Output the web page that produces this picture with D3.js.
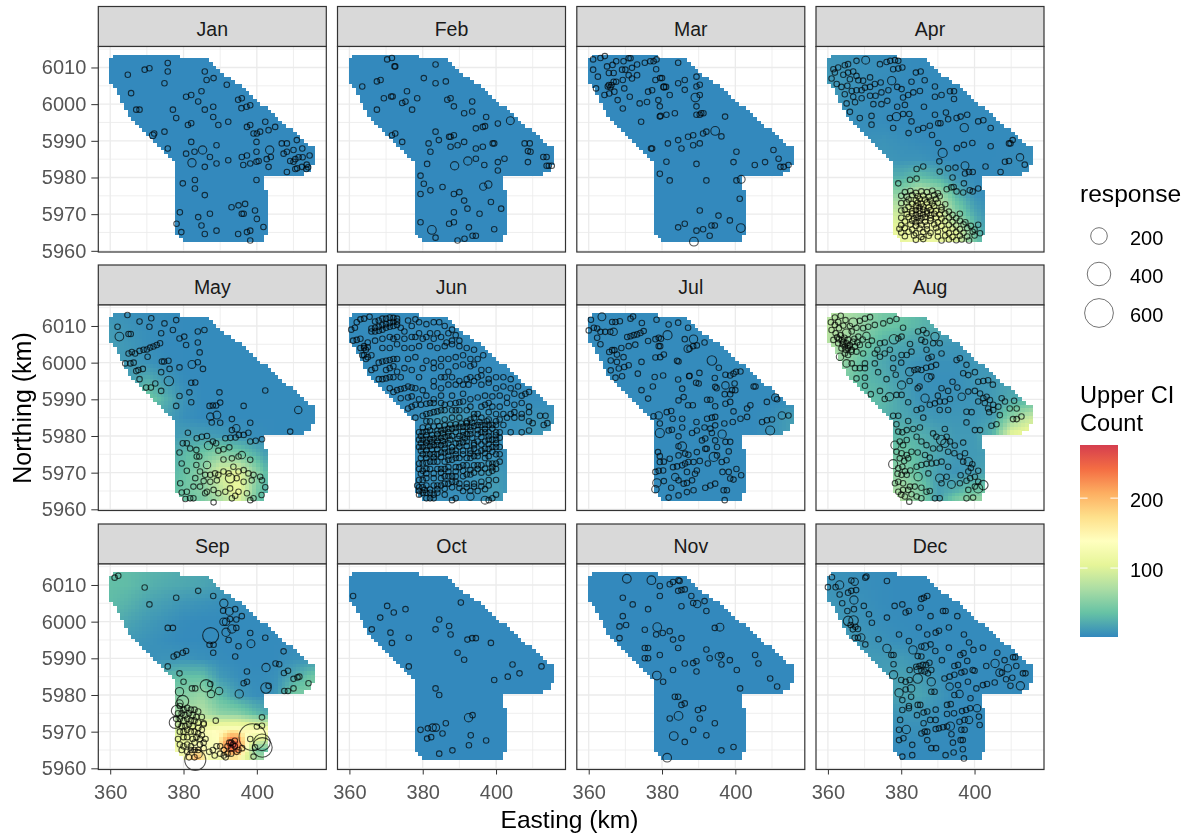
<!DOCTYPE html>
<html><head><meta charset="utf-8">
<script src="https://cdn.jsdelivr.net/npm/d3@7"></script>
<style>html,body{margin:0;padding:0;background:#fff}svg{display:block;font-family:"Liberation Sans",Arial,sans-serif;filter:blur(.45px)}</style>
</head><body><svg id="c" width="1192" height="838"></svg>
<script>
const months=["Jan","Feb","Mar","Apr","May","Jun","Jul","Aug","Sep","Oct","Nov","Dec"];
const xTicks=[360,380,400], xMinor=[370,390,410];
const yTicks=[5960,5970,5980,5990,6000,6010], yMinor=[5965,5975,5985,5995,6005,6015];
const sizeBreaks=[200,400,600], colorBreaks=[100,200];
const colorDomain=[1.4,276];
const spectral=["#3288BD","#66C2A5","#ABDDA4","#E6F598","#FFFFBF","#FEE08B","#FDAE61","#F46D43","#D53E4F"];
const smallResponse=22, flatField=2;
// survey region outline (easting, northing km)
const regionOutline=[[359.8,6012.5],[360.9,6013.5],[378.9,6013.5],[379,6012.6],[385.6,6012.6],[391.1,6008],[396.4,6004.5],[400,6000.8],[403.6,5998],[407.3,5994.9],[411.8,5990.8],[415.9,5987.6],[415.9,5983.7],[415,5983.5],[415,5981.7],[413.2,5981.5],[413.2,5980.2],[408.2,5980.2],[408.2,5981],[401.8,5981],[401.8,5976.5],[403.2,5976],[403.2,5965.8],[401.8,5964.5],[401.8,5963.3],[400.9,5962.5],[380,5962.5],[379.1,5963.5],[378.2,5964.3],[378.2,5984.3],[375.5,5986.3],[370.9,5990.8],[365,5996.3],[363.2,6000.8],[361.4,6004.9],[359.8,6006.5]];
// upper CI on a coarse lattice
const gridX=[360,365,370,375,380,385,390,395,400,405,410,415];
const gridY=[6015,6010,6005,6000,5995,5990,5985,5980,5975,5970,5965,5960];
const fieldApr=[[8,8,6,5,4,3,3,3,3,3,3,3],[10,8,6,5,4,3,3,3,3,3,3,3],[12,8,6,4,3,3,3,3,3,3,3,3],[10,7,5,4,3,3,3,3,3,3,3,3],[5,5,5,4,3,3,3,3,3,3,3,3],[3,3,6,8,6,4,3,3,3,3,3,3],[3,3,6,10,8,8,5,3,3,3,4,5],[3,3,10,25,25,35,25,10,4,3,4,4],[3,3,20,60,60,95,75,30,8,3,3,3],[3,3,35,90,90,130,110,55,20,3,3,3],[3,3,45,110,110,120,115,105,40,3,3,3],[3,3,50,110,110,110,105,95,45,3,3,3]];
const fieldMay=[[5,5,5,5,3,3,3,3,3,3,3,3],[12,8,5,4,3,3,3,3,3,3,3,3],[14,10,6,3,3,3,3,3,3,3,3,3],[14,12,8,4,3,3,3,3,3,3,3,3],[5,15,25,12,4,3,3,3,3,3,3,3],[5,10,45,25,8,3,3,3,3,3,3,3],[3,3,15,15,6,3,3,3,3,3,3,3],[3,3,5,10,15,15,12,8,5,3,3,3],[3,3,5,20,30,40,55,45,25,5,3,3],[3,3,5,25,35,55,95,105,55,10,3,3],[3,3,5,30,40,50,80,115,45,8,3,3],[3,3,5,30,35,40,60,80,40,5,3,3]];
const fieldJun=[[3,3,3,3,3,3,3,3,3,3,3,3],[3,3,3,3,3,3,3,3,3,3,3,3],[3,3,3,3,3,3,3,3,3,3,3,3],[3,3,3,3,3,3,3,3,3,3,3,3],[3,3,3,3,3,3,3,3,3,3,3,3],[3,3,3,3,3,4,4,4,4,4,4,4],[3,3,3,3,5,12,12,8,6,6,8,8],[3,3,3,3,6,10,8,6,6,6,10,10],[3,3,3,3,6,6,6,6,6,6,6,6],[3,3,3,3,5,6,6,10,12,6,6,6],[3,3,3,3,5,5,6,8,14,6,6,6],[3,3,3,3,4,5,5,6,10,6,6,6]];
const fieldJul=[[3,3,3,3,3,3,3,3,3,3,3,3],[3,3,3,3,3,3,3,3,3,3,3,3],[3,3,3,3,3,3,3,3,3,3,3,3],[3,3,3,3,3,3,3,3,3,3,3,3],[3,3,3,3,3,3,3,3,3,3,3,3],[3,3,3,3,3,3,3,3,3,3,3,3],[3,3,3,3,3,3,3,3,3,3,6,14],[3,3,3,3,3,3,3,3,3,3,8,14],[3,3,3,3,3,3,3,3,3,3,3,3],[3,3,3,3,3,3,3,3,3,3,3,3],[3,3,3,3,3,3,3,3,3,3,3,3],[3,3,3,3,3,3,3,3,3,3,3,3]];
const fieldAug=[[75,70,60,45,40,32,22,15,12,10,10,10],[80,70,55,40,35,28,22,18,12,10,10,10],[75,65,42,26,20,15,12,10,10,10,10,10],[65,55,30,20,12,8,7,7,10,10,10,10],[55,45,30,24,14,7,6,6,10,12,15,15],[40,40,35,30,18,8,7,8,9,13,22,25],[30,30,30,26,20,14,10,10,10,14,55,85],[30,30,30,30,30,25,18,12,12,28,110,120],[40,40,40,40,42,30,18,12,12,14,14,14],[40,40,40,50,55,32,15,9,14,20,20,20],[50,50,50,65,70,48,15,25,40,40,40,40],[50,50,50,70,80,58,15,70,85,60,50,50]];
const fieldSep=[[32,32,28,25,22,20,18,14,10,5,5,5],[34,32,26,22,20,18,14,10,8,5,5,5],[32,26,18,14,10,8,6,5,5,5,5,5],[26,18,12,8,4,3,3,3,3,3,3,3],[18,12,8,5,3,3,3,3,3,3,3,3],[12,8,6,8,8,6,4,3,3,3,6,6],[10,8,12,28,35,35,12,5,4,6,20,40],[10,10,30,50,50,60,32,12,5,8,45,50],[30,50,60,60,70,75,55,50,30,15,10,10],[60,80,90,90,100,125,145,150,140,130,20,20],[90,110,130,125,115,130,130,150,50,30,20,20],[120,130,140,130,130,115,105,105,90,80,20,20]];
const fieldDec=[[6,6,5,4,3,3,3,3,3,3,3,3],[8,7,5,4,3,3,3,3,3,3,3,3],[10,8,6,4,3,3,3,3,3,3,3,3],[12,10,7,5,4,3,3,3,3,3,3,3],[12,12,10,7,5,4,3,3,3,3,3,3],[10,10,12,12,12,8,5,3,3,3,3,3],[5,5,10,14,16,14,8,3,3,3,3,3],[3,3,8,14,18,18,10,4,3,3,3,3],[3,3,4,8,10,10,6,3,3,3,3,3],[3,3,3,5,6,6,4,3,3,3,3,3],[3,3,3,3,3,3,3,3,3,3,3,3],[3,3,3,3,3,3,3,3,3,3,3,3]];
// local peaks in September: easting, northing, value, reach km
const peaksSep=[[393.5,5966.3,276,4.5],[383.5,5963,205,3.5]];
// small encounters: flat easting,northing pairs; big*: easting,northing,response triples
const ptsJan=[364.8,6008,369.4,6009.4,370.7,6009.8,375.7,6011.2,375.7,6008.9,374.8,6005.7,365.7,6003,367.1,5998.5,368,5998.5,377.1,5998.5,378,5996.2,380.7,6002,382.1,6002.5,384.9,6003.5,384,6000.7,385.8,5998.5,388.1,5999.3,388.1,5996.5,389.5,5994.3,392.2,5995.2,385.8,6008.9,386.3,6006.6,388.2,6007.1,391.8,6005.3,394.9,6001.2,395.9,6001.6,395.8,5998.9,397.2,5999.3,398.2,5999.7,381.2,5994.3,382.1,5994.8,372,5992,374.8,5992.5,375.7,5987.9,380.7,5986.5,382.1,5989.7,383,5987,385.8,5982.9,387.2,5985.6,389,5988.8,389,5983.8,392.2,5984.7,395.9,5985.6,397.3,5986,396.3,5983.4,398.2,5983.8,399.1,5992,400,5992,400.9,5992.5,402.3,5995.2,403.2,5992.9,405,5993.8,397.3,5993.8,398.2,5994.3,399.9,5989.7,399.9,5987,399.9,5984.3,400.5,5984.5,402.7,5985,403.8,5985.6,403.2,5982.9,399.9,5979.3,406.8,5989.3,408.2,5989.3,407.3,5986.5,408.2,5987,410,5987.5,410.9,5990.2,412.4,5987.9,414.4,5986,409.1,5984.5,410.5,5985,411.4,5985.5,412.5,5985.5,410,5984.3,408.2,5981.5,410.5,5982.3,411,5982.5,412.3,5982.9,413.6,5983.5,413.5,5982.3,414,5982.8,379.8,5978.4,383.1,5979.3,383.1,5977,385.8,5975.2,379,5970.5,384,5969.2,387.2,5970.1,378.1,5967.4,384.9,5966.9,379.4,5965.1,385.8,5964.6,389,5965.5,393.1,5971.9,395,5972.4,396.8,5972.8,395.9,5970.1,396.4,5970.1,399.5,5971,400,5968.7,401.8,5966.5,394.9,5964.6,397.3,5965.1,398.2,5965.5,398.2,5962.8];
const bigJan=[371.6,5991.5,32,385.2,5987.5,50,382.3,5984,50,403.5,5987.5,50];
const ptsFeb=[370.3,6012.2,371.6,6012.6,372.3,6010.3,372.5,6010.3,383.5,6010.8,380.3,6007.1,367.5,6006.2,368.5,6006.6,383.5,6005.7,386.3,6006.2,363.5,6004.8,375.7,6003.5,369.4,6001.6,371.4,6002.1,371.8,6002.1,374.4,6000.3,375.3,6000.7,378.5,6001.6,377.1,5998.5,367.5,5998.5,386.7,6001.2,387.6,6001.6,388.5,5999.4,393.5,6000.7,391.3,5997.5,393.5,5998,397.3,5996.5,400.5,5994.7,394.5,5993.4,396.4,5993.8,397,5994,383.5,5992.5,371.6,5991.5,372.5,5992,374.4,5989.7,381.6,5989.3,384.4,5990.2,387.2,5991.1,387.6,5991.1,388.5,5991.5,387.6,5988.4,389.5,5988.8,391.3,5989.7,394.5,5987.9,396.4,5988.4,399.1,5989.3,399.5,5989.3,382.1,5987,381.2,5983.7,394.5,5985.1,396.8,5983.4,400.5,5984.2,402.3,5985.1,400.5,5981.9,407.8,5989.3,409.2,5989.3,408.7,5987.2,409.4,5987,408.7,5984.2,412.9,5985.6,413.8,5985.6,413.8,5983.2,414.4,5983.2,415.2,5983.2,379.4,5980.5,380.3,5978.3,385.4,5977.4,379.4,5975.5,382.1,5976.5,388.5,5975.5,390,5976,391.3,5973.7,392.2,5971.5,388.5,5970.5,395.5,5970.1,398.6,5973.3,401.4,5971.5,379.4,5967.8,387.2,5967.4,388.5,5967.8,392.6,5966.4,399.5,5965.9,383.5,5963.6,389.5,5962.8,391.4,5963.3,393.6,5964.1,394.5,5964.1];
const bigFeb=[403.9,5995.5,45,388.7,5983.2,50,392.3,5984.5,50,396.5,5977.5,38,397.9,5978.1,38,382.5,5965.7,55];
const ptsMar=[361.2,6012.2,363.2,6012.6,364.4,6013.1,367.5,6011.7,369.5,6011.7,370.9,6012.5,371.4,6012.5,373.2,6010.8,375.3,6011.3,376.8,6011.7,377.7,6011.7,378.5,6012.2,384.4,6011.3,361.2,6009.4,365,6010.3,366.5,6010.7,365.5,6008.5,366.8,6008.5,362.5,6007.5,369.1,6009.4,370,6009.4,371.8,6009.9,370.9,6007.9,371.8,6007,373.2,6007.9,378.4,6009.5,369.3,6006.6,379.5,6007.1,380,6007.1,378.2,6006.6,365.5,6005.2,366.2,6005.2,366.8,6006.1,367.5,6006.1,365.2,6004.8,365.9,6004.6,362,6004.3,364.3,6002.5,365.6,6002.9,367,6003.4,369.7,6004.3,367.9,6001.1,371.2,6002,369.3,5998.8,373.9,6000.2,375.9,6000.6,376.2,6003.4,377.3,6003.8,379,6001.1,379.4,5999.4,380.5,6004.7,381.1,6004.7,382.1,6002.5,384.4,6005.7,386.2,6006.6,386.2,6003.9,389.4,6007.5,390.3,6005.3,389.4,6004.8,390.3,6002.5,389.4,5999.4,389.4,5997.1,390.3,5997.1,390.7,5997.5,391.3,5997.5,383.5,5997.5,381.2,5997.1,379.4,5996.6,379.6,5996.8,374.3,5995.2,397.2,5996.6,396.2,5991.2,392.1,5992.5,391.2,5992,388.5,5991.5,387.1,5991.1,384.4,5990.2,381.6,5989.3,377,5987.9,377.3,5987.9,388.5,5988.8,390.3,5989.3,385.3,5987.9,381.2,5984.3,389.4,5983.7,379.4,5981,382.1,5979.2,392.1,5979.2,400.3,5987,399.5,5984.2,400.3,5979.2,401.2,5974.2,405.3,5983.4,408.1,5984.2,410.4,5987.5,411.8,5985.1,412.3,5982.9,413.2,5982.9,414.5,5983.4,390.3,5971,395.4,5969.6,398.5,5968.3,393.5,5966.9,394.4,5966.9,384.4,5966.4,386.2,5967.4,389.4,5965.5,391.2,5965.9,393,5964.1];
const bigMar=[380.5,6004.7,30,389.1,6001.8,55,394.5,5992.7,55,401.6,5979.5,45,401.5,5966.2,55,388.7,5962.5,55];
const ptsApr=[367.8,6011.8,374.2,6010.9,376,6011.5,377,6011.8,378.3,6012,379.2,6011.8,377.8,6009.5,379.2,6009.7,380.3,6010,384,6008.6,385.3,6008.9,365.5,6010.9,364.6,6010.6,362.8,6010,361.5,6009.5,361,6007,361.9,6008.6,364.2,6008,365.5,6008.6,366.9,6008.9,367.8,6007.7,366,6006.8,368.3,6006.5,369.6,6006.4,371.5,6007.3,362.4,6005.5,363.7,6004.7,365.3,6005,366.5,6003.6,367.8,6003.8,369.2,6003.8,370.1,6004.5,371.5,6004.7,372.8,6005.5,374.4,6005.9,364.6,6002.7,366.9,6002,369.2,6001.6,371.5,6002.3,373,6002.3,374.6,6003.2,376.5,6003.8,378.9,6004.7,380.1,6004.1,380.5,6001.8,381.9,6002.5,383.3,6003.2,385.1,6003.6,386.4,6006.5,382.8,6006.1,389.2,6004.8,389.2,6002,391,6002.5,393.3,6003.5,394.4,6003.5,394.4,6001.4,365.1,6000.2,367.4,6000.5,366,5997.9,368.7,5996.2,371.9,5996.8,371.9,5994.4,372.4,6000,374.6,6000,376.2,6000.9,378.9,5999.3,381,5999.8,376.9,5996.2,380.5,5997.3,382.2,5997.3,382.8,5995.3,377.8,5993.5,382,5992.1,384.6,5993,386,5993.5,387.8,5994.1,386.2,5999.3,389.2,5997.1,392.2,5997.7,392.8,5995.9,390.1,5994.8,390.7,5994.8,395.1,5996.2,396.2,5996.6,398,5997.1,401,5995.3,402.4,5995.6,404.4,5993.5,388.4,5991.6,390.1,5989.4,395.2,5988,397.1,5988.9,399.4,5989.4,404.4,5988.5,409.4,5989.3,409.8,5989.3,410.4,5990.2,409.4,5984.5,408.3,5984.3,413.7,5983.5,407.1,5981.5,403,5983,384.2,5982.3,386,5983,390.4,5984.4,390.5,5981.6,392.8,5982.5,394.8,5982.7,397.4,5981.1,398.5,5981.5,399.5,5981.5,394,5980,379.2,5978.4,382.4,5979.4,384.2,5979.7,393.7,5977.3,397.1,5978.4,398.7,5976.5,401,5977,399.5,5976.2,395.1,5976.2,396.9,5975.9,392.4,5976.8,394.3,5977.4,381,5976,382.5,5976.3,384,5975.8,385.5,5976.2,387,5976,388.5,5976.4,390,5975.7,380,5975,381.5,5974.8,383,5975.2,384.5,5974.9,386,5975.1,387.5,5974.7,389,5975.2,390.5,5974.9,382,5974,384,5973.8,385,5974.2,386.5,5974,388,5973.7,389.5,5974.1,380,5973,381.5,5973.2,383,5972.8,384.5,5973.1,385.5,5972.8,387,5973.2,388.5,5972.9,390,5973.1,392,5972.7,382,5972,384,5972.2,385,5971.8,386,5972.1,387.5,5971.8,389,5972.2,391,5971.9,380,5971,381,5971.2,383,5970.8,384,5971.1,385,5970.9,386,5971.2,387,5970.8,388,5971.1,389.5,5970.9,391,5971.1,393,5970.7,381.5,5970,383,5970.2,384,5969.8,385,5970.1,386,5969.9,387,5970.2,388,5969.8,389,5970.1,390.5,5969.9,392,5970.2,394,5969.8,396,5970.1,380,5969,382,5969.2,383.5,5968.8,384.5,5969.1,385.5,5968.9,386.5,5969.2,388,5968.9,389.5,5969.1,391,5968.8,393,5969.1,395,5968.9,381,5968,383,5968.2,384,5967.8,385,5968.1,386.5,5967.9,388,5968.2,390,5967.8,392,5968.1,394,5967.9,396,5968.2,397.5,5967.8,380,5967,382.5,5967.2,384,5966.8,385.5,5967.1,387,5966.9,389,5967.2,391,5966.8,393,5967.1,395,5966.9,397,5967.2,399,5966.8,401,5967.1,379.5,5966,381,5966.2,383,5965.8,385,5966.1,387,5965.9,389.5,5966.2,392,5965.8,394,5966.1,396,5965.9,398,5966.2,400,5965.8,380,5965,382,5965.2,384,5964.8,386,5965.1,388,5964.9,390,5965.2,393,5964.8,395,5965.1,397,5964.9,399.5,5965.2,401.5,5964.8,381,5964,383.5,5964.2,385.5,5963.8,387.5,5964.1,390,5963.9,392,5964.2,394,5963.8,396,5964.1,398,5963.9,400,5964.2,384,5963,386,5963.2,391,5962.8,393,5963.1,395,5962.9,396.5,5963.1,398.5,5962.8];
const bigApr=[370.3,6012,45,377.4,6006.4,50,378.7,5996.6,50,397.2,5993.6,50,391.3,5986.7,60,412.4,5985.5,40,397.4,5983.2,45];
const ptsMay=[364.7,6013,362,6009.8,368,6011.2,371.2,6012.1,370.7,6009.8,374.8,6010.7,378,6011.6,377.1,6008.9,373.9,6008,365,6007.8,365.6,6007.8,378.9,6006.6,380.2,6007.1,380.7,6004.8,383.9,6008.5,385.7,6008.9,383.9,6005.5,384.4,6002.8,365,6002.5,365.9,6002.9,366.8,6002.5,368,6003.2,369.1,6003.5,370,6003.6,370.9,6004.1,371.8,6004.4,372.7,6004.8,373.6,6005.3,370.2,6001.6,364.1,5999.8,365.5,5999.8,366.4,6000,374.1,6000.3,374.7,6000.3,375.9,6000.5,367.1,5997.7,367.7,5998,368.9,5998.3,368,5995.5,373.9,5997.4,376.2,5998.3,378.9,5998.7,383.9,6000.1,385.3,5998.3,382.1,5994.5,383.2,5994.6,369.8,5993.2,371.1,5993.2,372.3,5994.3,373.9,5992.3,378.9,5990.9,381.6,5991.9,382.1,5989.2,378,5988.2,387.1,5988.2,388,5988.3,388.9,5988.3,390,5989.1,389.8,5991.9,396.4,5988.2,402.3,5992.4,409.1,5981.2,387.7,5983.7,390,5983.6,393.2,5984.6,398.2,5983.6,393.2,5981.6,397.7,5980.9,381.2,5980.9,379.8,5978,380.9,5978,383.6,5979.4,385,5979.8,386.4,5980,388,5978.5,388.9,5978,391.4,5979.4,392.8,5979.5,394.2,5979.6,395.1,5980.3,396.4,5980.3,398.2,5978.5,399.7,5978.7,401.4,5979.1,389.5,5976,390.9,5976.4,392.5,5976.9,381.8,5976.6,383.5,5976.2,378.9,5975.5,383.6,5974.4,384.3,5974.4,395,5974.4,390.9,5973.6,393.2,5973.9,398.2,5973.5,379.5,5972.5,380.9,5970.5,383.5,5972.1,384.5,5970.3,385.9,5969.4,387.3,5969.4,388.6,5969.8,389.5,5969.4,390.9,5970.3,392.3,5969.8,393.6,5971.6,395,5970.3,396.4,5970.7,397.7,5969.8,399.1,5969.4,400.9,5968.9,383.2,5968.5,385.5,5967.7,387.3,5967.5,389.1,5967.9,394.5,5968.5,396.4,5967.5,398.6,5967.9,401.4,5967.9,379.1,5967.1,402.3,5966,382.7,5966.2,384.5,5966.2,386.4,5964.8,388.2,5965.3,389.5,5964.4,391.4,5964.8,392.7,5965.7,395,5964.8,397.3,5964.4,401.3,5963.9,379.5,5964.6,380.9,5964.8,381.8,5963,380.5,5962.8,382.7,5963,388.2,5961.9,393.2,5963,394.1,5963.7,399.1,5963,398.2,5962.5,385.9,5964.4];
const bigMay=[362.5,6007.1,55,382.3,5999.5,45,376,5995,65,411.3,5987.1,40,387.3,5985.3,40,389.1,5985.7,45,394.4,5982.1,40,386.8,5977.4,50,395.9,5974.8,40,386.4,5972.1,40,392.7,5968.5,65];
const ptsJun=[362,6011,363,6011.8,364,6012,365.5,6012.5,367,6011.2,368,6011.5,369,6012,370,6012,371,6012.3,372,6012.2,373,6012,376,6011.5,378,6011.8,379,6011,381,6010.5,383,6011,384.5,6011,386,6010,388,6009,360.5,6009,361.5,6009.5,366,6008.5,367,6008.5,368,6008.7,369,6009,370,6009.5,371,6009.8,372,6010,373,6010.3,374,6009.5,375,6008.5,377,6010,379,6008,382,6008,384,6008,387,6008,389,6007.5,361,6006,362,6006.2,363,6006.5,365,6005.5,367,6006,369,6006.5,371,6007,372,6006.5,373,6007,375,6006.5,377,6007,378,6007,380,6006.5,381,6007,383,6006.5,385,6007,386.5,6005.5,388,6006,390,6006,363,6004,364,6004,365,6004.2,369,6004,371,6004,373,6005,375,6004,377,6004,379,6004.5,382,6004.5,384,6004,386,6004.5,388,6005,390,6004.5,392,6004,394,6003.5,364,6002,365,6001.5,366,6002,368,6000,369,6000.3,370,6000.5,371,6000.7,372,6001,373,6001,376,6001,378,6001.5,381,6000.5,383,6000,385,6001,387,6001,389,6001.5,391,6002,393,6001,395,6001,396.5,6002,366,5998,367,5998.5,370,5998,371,5998.5,372,5999,373,5997.5,375,5998.5,377,5998,380,5998.5,383,5998.5,385,5999,387,5997.5,389,5999,391,5999.5,393,5999,394,5999.5,396,5998,398,5998,368,5995.5,369,5995.5,370,5995.7,371,5996,372,5996,374,5996,379,5996,383,5995,385,5996,386,5996,388,5996,390,5995,392,5995.5,393,5996,395,5996,396,5996.5,398,5995.5,400,5996,402,5996,404,5995.5,371,5993,372,5992,373,5992.5,374,5992.8,375,5993,376,5993.5,377,5993.2,378,5993,380,5992.5,383,5993.5,385,5993,387,5994,389,5994,391,5994,392.5,5994,394,5995,396,5994,398,5994.5,400,5993,402,5993.5,404,5993,406,5993.5,374,5990.3,376,5990.5,377,5990.8,379,5990,381,5991,383,5990,385,5991,388,5991,391,5991.5,393,5990,395,5990.5,397,5991,399,5990.8,401,5991,403,5990.5,405,5991.5,407,5991,408,5991.5,409,5992,376,5987.5,377,5988,378,5988.5,379.5,5988.5,381,5988.8,382,5989,383,5989,385,5989,386,5988.5,387.5,5988.8,389,5989,390,5989.2,391,5989.4,393,5988,396,5988,397,5988.5,398,5989,399,5988,401,5988,403,5989,405,5988.5,407,5989,409,5988,378,5985,380,5985.5,381,5986,382,5986.2,383,5986.5,384,5986.7,385,5987,386,5987,388,5987,389,5987,390,5987,392,5987,394,5986,395,5986,398,5986.5,400,5986,402,5986,404,5986,405,5986.5,407,5986,409,5986.5,412,5985.5,413.5,5985.5,381,5984,382,5984,384,5984,386,5984.5,388,5985,390,5985,392,5984,393,5984.5,394,5985,396,5985,398,5984.5,400,5984,401,5984.5,403,5985,405,5985,407,5985,409,5984,410,5983.5,413,5983,414,5983.5,379,5981,380,5981,381,5981.2,382,5981.5,384,5981.5,385,5981.5,386,5981.7,387,5982,388,5982,389,5982.2,390,5982.5,391,5982.5,392,5982.5,393,5982.5,394,5982.7,395,5983,396,5983,397,5983,398,5983,399,5983,400,5983,402,5983,404,5981,407,5981,409,5981.5,379,5979,380,5979,381,5979,382,5979.2,383,5979.3,384,5979.5,385,5979.5,386,5979.7,387,5980,388,5980,390,5980,391,5980.2,392,5980.5,393,5980.5,395,5980.5,396,5981,397,5981,398,5981,400,5981,401,5981,379,5977,380,5977,381,5977.2,382,5977.3,383,5977.5,384,5977.5,385,5977.5,386,5977.7,387,5978,389,5978,390,5978,391,5978.3,392,5978.5,394,5978,395,5978.5,397,5978.5,398,5979,399,5979,400,5979,401,5979.5,380,5975,381,5975,382,5975,383,5975,384,5975,385,5975.5,386,5975.5,387,5975.7,388,5976,389,5976,391,5976,393,5976,394,5976.5,396,5976,397,5976.5,398,5976.5,399,5977,400,5977,401,5977,379,5972.5,380,5972.5,381,5972.7,382,5973,383,5973,384,5973,386,5973,387,5973.5,388,5973.5,389,5974,390,5974,392,5974,393,5974,394,5974.5,395,5974.5,397,5974,398,5974.5,400,5975,401,5975,379,5971,380,5970.5,381,5971,382,5971,384,5971,385,5971,386,5971,387,5971.5,389,5971.5,390,5971.5,391,5972,392,5972,394,5972,395,5972,396,5972,398,5972.5,399,5972.5,400,5972.5,401,5973,379,5968,380,5968,381,5968.5,383,5968.5,385,5968.5,386,5969,387,5969,388,5969,389,5969,391,5969,392,5969.5,393,5969.5,394,5970,396,5970,398,5970,399,5970.5,400,5971,378.5,5966.5,379,5966,380,5966,381,5966.5,383,5966.5,384,5966.5,385,5966.5,386,5967,387,5967,388,5967.5,389,5967.5,390,5967,392,5967,394,5967,396,5967.5,398,5968,400,5968,379,5964,380,5964.5,381,5964.5,382,5964.5,383,5964,384,5964.5,386,5964,391,5965,393,5965,395,5965,397,5965.5,381,5963,382,5963,383,5963,388,5962.5,389,5963,398,5962.5,399,5963,400,5964,380,5982.3,381.5,5982.4,383,5982.6,384.5,5982.7,386,5982.9,387.5,5983.1,389,5983.2,390.5,5983.4,392,5983.5,393.5,5983.6,395.5,5983.8,397.5,5984,379.5,5980,381,5980.2,382.5,5980.3,384,5980.5,385.5,5980.7,387,5981,389,5981.1,391,5981.2,393,5981.5,395,5981.6,397,5981.9,399,5982,379.5,5978,381,5978.2,382.5,5978.3,384,5978.5,385.5,5978.6,387.5,5979,389.5,5979.2,391.5,5979.4,393.5,5979.5,396,5979.7,398,5980,400,5980.2,379.5,5976,381,5976.1,382.5,5976.3,384,5976.4,386,5976.6,388,5977,390,5977.1,392,5977.3,394,5977.5,396,5977.7,398,5977.8,400,5978,379.5,5974,381,5974,383,5974.2,385,5974.3,387,5974.6,389,5975,391,5975,393,5975.2,395,5975.5,397,5975.3,399,5975.7,379.5,5969.7,381,5969.8,383,5969.8,385,5970,387,5970.3,389,5970.3,391,5970.5,393,5970.7,395,5971,397,5971.1,399,5971.5,379,5965,380.5,5965.3,382,5965.4,384,5965.5,386,5965.6,388,5966,390,5965.8,392,5966,394,5966.2,396,5966.3,398,5966.5,366,6009.3,367,6009.5,368,6009.8,369,6010.2,370,6010.5,371,6010.8,372,6011.1,373,6011.2,364,6004.5,364.5,6003.5,363.5,6002,364.5,6001];
const bigJun=[393,5963.5,40,397,5962.5,45];
const ptsJul=[360.6,6011.7,366.4,6011.1,367.3,6011.1,368.5,6011.3,371.4,6012,372.1,6012.6,374.5,6010.8,378.5,6011.7,381.8,6010.4,384.4,6010.9,387.1,6009.5,360,6008.8,361.4,6009.5,362.3,6009.3,363.2,6008.4,364.5,6008.4,365.9,6008.4,362.3,6006.8,370.5,6007,371.4,6007.2,372.3,6007.5,373.2,6007.7,374.1,6008.1,375,6008.6,379.1,6006.8,378.2,6006.4,379.7,6006.5,376.2,6005.9,379.1,6004.5,379.5,6004.5,386.2,6006.4,391.6,6005.5,387.5,6003.8,388.5,6004.5,389.5,6004.7,363.2,6005,370.9,6004.5,372.7,6004.9,368.9,6004,365.6,6002.9,366.4,6003.4,367,6003.4,367.7,6002.2,366,6000.6,367.7,6000.2,369.5,6001.5,378.2,6001.4,379.5,6001.5,380.5,6002.2,374.4,6000.2,384.1,6000.5,384.5,6000.3,395.5,5998.6,366,5997.9,368.2,5998.4,369.7,5998.8,370.9,5999.3,373.4,5997,367.3,5995.9,369.1,5996.3,378,5996.1,380.3,5996.5,387.4,5996.3,387.5,5996.4,390.2,5997.2,384.4,5995.4,394.4,5995.8,397.3,5996.7,398.6,5996.5,399.5,5997,400.2,5997.5,401.4,5997.6,385.5,5992.9,389.3,5994.5,390,5994.3,377.5,5993.5,374.4,5992.5,376.2,5990.2,385.9,5990.6,384.5,5989.7,394.5,5993.4,394.9,5993,399.8,5994.3,399.1,5992.5,400,5992.5,397.1,5991.4,398.6,5991.4,405,5993.5,405.5,5993.5,392.3,5989.9,393.2,5989.9,397.3,5988.8,398.6,5989.3,387.1,5988.4,388.4,5988.4,394.5,5988.1,404.1,5988.4,403.2,5987.5,408.6,5989.3,411.4,5990,377.7,5985.4,381.3,5986.5,382.5,5986.8,379.4,5983.4,382.9,5984.7,385.5,5984.7,385.5,5982.3,381.8,5981.5,382.7,5981.7,384.5,5979.9,389.4,5983.8,392.3,5984.7,393.6,5985,394.5,5985.2,391.6,5982.3,393.2,5982,394.5,5982.9,397,5983.4,399.3,5983.8,399.5,5986.7,401.4,5984.7,403.2,5985.2,407.3,5983.8,408.6,5984.3,410,5984.5,414.5,5985.6,389.5,5981.5,388.2,5980.8,393.6,5980.8,391.8,5979.3,390.9,5978.8,394.5,5978.8,397.3,5978.4,398.6,5978.4,384.5,5977.2,391.8,5976.5,392.2,5976.5,395,5977,378.9,5975.6,379.4,5974.5,384.5,5974.7,386.3,5975.2,387.2,5974.9,389.5,5975.6,395,5974.7,398.2,5975.8,396.3,5972.9,397.6,5973.4,379.4,5972.9,380.5,5973,382.1,5973.8,383,5971.5,384.1,5971.7,385.5,5972,386.3,5972.5,387.2,5972.9,388.6,5972.9,390.3,5973.2,389.5,5970.6,392.5,5972.5,386.8,5970.2,389,5969.7,396.5,5970.2,400.3,5971,398.2,5970.2,378.2,5970.2,379.1,5970.5,380.3,5970.6,384.5,5967.9,385.9,5967,386.8,5967.2,388.2,5967.9,380.5,5967.7,394.5,5967,393.2,5966.5,391.8,5965.9,398.6,5968.4,399.5,5968.1,401.6,5969.3,382.5,5965.9,384.5,5963.8,381.8,5963.2,386.8,5964.7,388.6,5965.2,396.8,5965.2,397.7,5965.2,397.1,5962.5];
const bigJul=[363.6,6012.5,45,366.8,6008.4,40,381.5,6007.5,60,388.6,6006.4,50,387,6003.8,40,393.6,6000.6,65,379.1,5985.6,40,412.7,5985.6,40,409.5,5981.5,60,410.9,5990.5,40,379.4,5980.8,60,396.4,5980.5,50,385.5,5977.2,55,394.1,5974.3,60,383.6,5968.8,40,378.6,5967.2,50,378.2,5965.5,40,397.3,5993.8,40];
const ptsAug=[361.9,6012.3,363.5,6012.8,364.8,6011.6,368.7,6011.4,370.1,6012,371.5,6012.4,375.1,6010.7,376.9,6011.4,378.7,6011.9,361.9,6010.3,363,6009.4,364.2,6010.1,361,6008.9,362.1,6008,363.5,6007.5,366.5,6008.5,367.8,6009.5,369.6,6009.4,371,6009.8,372.8,6010.3,361.5,6006.2,362.8,6005.3,364.2,6005.7,365.1,6005.3,366,6004.8,366.9,6005.7,367.4,6004.4,365.5,6003.9,364.6,6004.4,363.7,6003.9,366.5,6003.5,367.8,6003,364.6,6002.5,365.5,6002.1,366.5,5999.8,368.3,6007.1,368.7,6004.8,371,6004.8,369.6,6002.5,372.8,6002.5,374.2,6001.6,370.1,5999.8,372.8,5999.8,368.7,5998.5,370.1,5998.5,367.4,5998.5,367.8,5995.7,370.1,5995.9,370.1,5993.7,373.7,5997.4,376,5995.5,377.8,5998.5,371.7,5991.4,374.2,5992.3,374.2,6005.3,375.5,6005.5,379.2,6006.6,380.5,6009.5,380.1,6007.1,382.4,6005.1,376.9,6003.5,377.8,6001.2,380.1,6002.1,381.5,6002.1,382.8,6003,384.6,6008.5,386,6008.9,386.9,6008,385.5,6006.2,386.5,6005.7,388.7,6005.3,390.5,6005.3,386.9,6003.5,391,6002.5,387.4,6001.2,388.3,6001.6,383.6,5998,384.5,5998.2,385.5,5998,386.8,5998.6,388.2,5998.9,389.5,5999.4,388.2,5996.2,382.3,5995,384.5,5993,385,5993.5,396,6001.2,395.1,6000.7,397.8,5999.4,396.9,5997.1,398.3,5996.6,400.1,5997.4,401,5994.8,402.4,5995,403.7,5995.2,395.3,5993.2,392.8,5992.3,398.3,5992.1,400.1,5992.3,401.5,5991.6,402.4,5990.3,403.3,5990.7,404.2,5989.8,405.1,5988.5,406.5,5988,401,5989.4,402.8,5989,403.7,5987.5,405.1,5987.1,407.4,5990.3,408.3,5989.4,410.8,5989.6,409.6,5987.5,411.5,5987.5,410.5,5984.6,411.5,5984.6,412.8,5985.3,406.9,5985.7,404.6,5982.8,406,5983.2,397.8,5986.6,399.2,5986.5,397.8,5983.7,400.1,5981.6,401.5,5981.6,375.5,5990.1,378.7,5991.2,380.1,5991.2,381.9,5989.2,384.2,5987.1,385.5,5987.5,387.8,5988.5,389.2,5988.9,390.5,5989.4,391.9,5989.4,393.3,5990.1,392.8,5987.1,390.5,5987.1,386,5985,377.8,5985.5,379.2,5985.5,378.7,5983.2,381.9,5984.1,379.2,5981.2,380.3,5981,381.5,5981.6,385.1,5982.3,383.3,5981.9,388.7,5980.7,391.9,5981.9,379.6,5978.5,380.5,5977.5,381.5,5978.9,384.2,5979.8,385.5,5978.5,386.9,5977.5,389.6,5979.8,392.4,5979.8,393.3,5978.5,396.9,5978.2,394.6,5977.4,388.7,5976.6,378.7,5975.7,380.1,5975.3,381.5,5974.8,382.8,5975.7,386.5,5974.8,387.8,5974.1,390.5,5976.6,392.8,5975.7,394.5,5975.3,397.4,5975.3,379.6,5973.9,380.8,5973.2,381.9,5973.9,379.2,5971.2,380.3,5971.6,384.2,5971.6,385.5,5972.1,386.9,5972.4,388.3,5972.5,389.6,5972.7,391,5973,396,5974.4,396.9,5973,399.4,5972.3,392.8,5971.6,378.3,5967.1,380.1,5969.4,381.5,5969.4,387.4,5969.8,392.4,5968.9,398.3,5970.3,398.8,5968.5,400.1,5968.9,379.2,5967.5,380.5,5967.1,382.4,5966.2,383.7,5966.2,385.5,5965.9,387.8,5965,391,5967.1,396,5967.1,397.8,5967.8,401,5967.5,398.3,5965.3,400.1,5966.2,379.2,5964.8,380.5,5965.3,381.9,5965.3,382.8,5964.1,381,5963.5,382.2,5962.1,384.2,5963.5,385.5,5963,386.9,5964.8,389.2,5963,390.5,5963,397.8,5963,399.6,5963.2,362.5,6006.9,363,6006.4,363.8,6006.1,364.5,6006.8,365.5,6006.3,364,6005,364.8,6003.5,365.6,6004.5,366.4,6003,367.2,6006.5,360.8,6011,362.8,6011.1,366,6010,368,6005.5,369.5,6006.3,372,6006,373.5,6003.5,375.5,6002.5,380,6000,378.5,5996.7,391,5993,390,5991,394,5994.8,405,5994,404,5986.5,381,5970.4,380,5964,384.5,5975.5,382.5,5970.6,379,5969.7,396.2,5969.3,399,5971.3,401,5970.5];
const bigAug=[366.9,6011,55,365.1,6008,55,363.3,6001.6,40,365.1,5999.8,40,370.5,6007.3,40,378,6006.4,65,389.2,6007.1,50,382.3,5997.5,50,387.4,5995.9,50,380.1,5993.9,50,396.5,5990.7,40,376.8,5990.7,50,386.5,5990.3,50,378.3,5977.5,50,390.9,5978.9,65,391.9,5978,50,377.8,5972.3,60,398.3,5973,50,384.6,5968.9,50,390.5,5968.5,50,393.7,5966.8,45,402.4,5966.6,65,401,5965.7,60];
const ptsSep=[361.2,6012,362.2,6012.5,369.4,6009.3,370.7,6004.7,378,6006.5,384,6008.4,388.1,6007,390.8,6003,394.1,6003.4,395.9,6001.5,394.4,6000.6,392.7,6000.7,394.4,5998.3,392.3,5995,398.2,5996.9,402.3,5995.6,395,5993.3,394.1,5990.5,407.3,5991.9,387.1,5993.7,388.2,5993.7,388.1,5991.5,375.7,5998.3,377.1,5998.3,377.3,5990.5,378.2,5991,379.8,5991.5,380.7,5992,375.7,5987.8,378.9,5985.9,380,5983.6,382.3,5981.8,383.2,5981.8,387.3,5983,397.3,5986.4,396.4,5983.2,397.3,5983.6,405.1,5988.6,406.1,5988.4,407.4,5986,408.5,5986.6,410,5984.4,411.1,5984.8,411.6,5985,414.1,5983.2,410,5981.8,407.5,5981.1,408.5,5981.1,403.2,5982.5,401.4,5973.9,401.4,5971.6,400,5971.4,398.2,5968,399.5,5965.7,399.1,5963.2,388.8,5973,385.5,5972.3,379,5977,380,5976,381,5976.5,382,5976,383,5976,384,5975.5,378.5,5975,379.5,5975,380.5,5974.5,381.5,5975,382.5,5974.5,383.5,5974,385,5974,378,5973.5,379,5973.5,380,5973,381,5973.5,382,5973,383,5973,384,5972.5,385.5,5972,378.5,5972,379.5,5971.5,380.5,5971.5,381.5,5972,382.5,5971.5,384,5971,385,5970.5,379,5970,380,5970,381,5970.5,382,5970,383,5970,384,5969.5,385,5969,378.5,5968,380,5968.5,381,5968.5,382.5,5968,383.5,5968.5,384.5,5968,386,5968,379,5966.5,380,5966,381,5966.5,382,5966,383,5967,384.5,5966.5,385.5,5967,379.5,5965,381,5964.5,382,5965,383,5965,384,5965,385.5,5965.5,387,5964.5,388,5965,389,5966,390,5966,391,5965,392,5966,393,5967,393.5,5966.5,394,5966,393,5965.5,394,5967.5,392.5,5967,395,5965,396,5965.5,394.5,5964.5,392,5964,391,5963.5,390,5964,388.5,5963.5,391.5,5963,393,5964,383,5963,381.5,5963];
const bigSep=[391,6005,50,392.5,6002.8,45,390.9,6000,40,391.6,6000,40,393.2,5998,50,391.6,5997.1,50,398.4,5994,45,387.4,5996.2,185,386.2,5982.5,110,387.5,5980.3,40,389.7,5981.1,40,395.2,5980.3,50,402.5,5987.5,50,402.5,5981.9,80,378.9,5980.9,50,379.8,5978.3,100,378.9,5977.7,40,398.8,5968.5,520,401.4,5967.1,200,401.5,5965.7,280,383.2,5962.3,320,384,5963.9,50,378.2,5975.7,90,377.7,5972.5,100];
const ptsOct=[361,6007,370.3,6004.3,372.1,6002.5,375.3,6003.4,368.4,6001.1,366.1,5997.9,371.2,5997,371.6,5994.2,376.2,5995.6,376.2,5987.8,384.5,6000.6,383.5,5997.9,387.2,5998.8,387.6,5996.5,390.4,6005.2,392.2,5995.1,393.5,5995.5,394.5,5995.5,398.6,5994.2,389.5,5991.5,391.3,5989.6,404.5,5988.3,403.2,5985,406.4,5985.9,412.4,5987.8,399.5,5984.1,383.5,5981.8,384.5,5980,393.6,5974.5,386.3,5972.3,379.4,5970.5,381.4,5970.9,385.4,5969.5,381.2,5968.1,382.3,5968.5,393.1,5969,397.3,5967.6,392.6,5966.3,388.1,5964.9,384.5,5964];
const bigOct=[392.5,5973.8,50,382.7,5971.1,40,383.6,5971.1,40];
const ptsNov=[379.4,6009.7,382.1,6010.2,383,6010.8,384.5,6011.3,384.8,6011.1,384.4,6008.4,385.3,6008.6,386.2,6008.8,379.4,6007,388,6007,369.3,6006.5,372,6004.7,376.2,6003.4,385.3,6004.2,388.5,6005.1,391.6,6005.6,392.1,6002.9,369.3,6001.5,368.4,5998.7,370.2,5999.1,375.3,5997.8,378.4,5996.5,380.2,5996.9,382.1,5997.4,368.4,5995.5,383,5995.1,385.3,5995.5,394.4,5998.3,375.3,5992.8,376.2,5992.8,375.3,5990,376.2,5990,379.4,5990.9,384.4,5992.8,392.1,5992.4,393,5990,396.2,5990.9,396.2,5988.3,398.5,5989.5,405.4,5990.9,406.3,5988.6,400.4,5986.8,386.2,5988.6,388.5,5988.7,389.4,5989.2,383,5986.8,389.4,5986.4,380.3,5983.6,409.5,5984.5,411.4,5982.3,401.3,5981.8,383.5,5979.5,384.4,5979.5,385.3,5977.3,386.2,5977.7,389.8,5975.9,391.2,5976.4,382.1,5973.6,390.3,5973.6,394.4,5972.3,388.5,5970.5,392.1,5969,386.2,5967.2,396.2,5964.9,399.5,5965.8];
const bigNov=[370.4,6011.7,55,377.1,6011.3,55,389.6,6004.8,40,378.7,5998.5,55,395.8,5998.5,45,395.5,5990.5,40,378.6,5985.3,55,384.5,5974.3,55,383.2,5968.8,55,381.4,5962.9,55];
const ptsDec=[361.1,6012.1,360,6009.4,362.1,6009.4,366.4,6011.2,370.5,6012.3,370.2,6012,376.1,6011.1,367.7,6008.6,366.4,6008.4,365.5,6007.9,363.2,6007.4,363.9,6005,369.8,6004.3,367.1,6003.4,365.3,6002.9,371.2,6002,372,5999.7,376.1,6001.1,366.2,5999.1,367.5,5998.6,368.2,5998,366.8,5997.9,367.3,5995.6,368.2,5995.6,370.2,5993.8,373.8,5995.2,379.4,5996.5,377.3,5990.9,377.9,5990.9,377.9,5988.4,378.2,6004.3,380.3,6004.7,381.2,6002.5,382.1,6002.9,385.3,6003.8,385.5,6006.2,386.2,6006.5,387.1,6007,388,6001.5,391.4,6002.9,392.1,6002.9,395.3,6001.5,384.8,5998.4,387.1,5996.5,389.4,5997,390.3,5997.5,393,5998.4,382.1,5994.7,385.5,5993.2,388,5993.8,389.3,5992,384.5,5990.6,385.5,5990.5,393,5992.9,397.1,5996.5,398.5,5994.3,399.7,5992.3,402.3,5992.9,396.1,5990.9,397,5991.4,391.1,5989.5,398,5989.3,394.5,5987.9,395.5,5988.2,399.5,5986.8,400,5986.6,403.2,5987.9,406.2,5991.5,408.2,5989.5,410.5,5990.3,411.1,5990.3,411.4,5987.9,407.5,5986.1,408.6,5984.3,410.3,5984.7,413.2,5985.9,413.9,5985.9,409.8,5982.5,384.1,5987.7,385,5987.9,385.9,5988.2,386.8,5988.2,387.7,5988.8,385.5,5986.6,386.4,5986.4,387.3,5985.9,388.2,5986.8,382.3,5986.8,381.2,5983.6,382.3,5984.1,380,5984.1,381.2,5981.5,388.2,5980.9,389.1,5980.9,391.8,5984.5,393.2,5985,394.5,5985.5,396.4,5986.1,397.3,5986.4,395.5,5982.7,394.5,5980,398.2,5983.6,400.5,5981.8,402.3,5982.7,403.4,5983,405.5,5983.4,398.9,5979.1,380.3,5978.6,382.7,5979.5,382.1,5977,384.5,5977.3,385.2,5977.3,380.3,5975.9,382.1,5976.4,384.3,5974.5,386.1,5975.2,387.1,5975.5,389.4,5976,392.5,5977.3,393.5,5977.5,392.5,5974.8,394.4,5975,396.6,5975.6,397.7,5975.9,398.8,5976.4,401.2,5974.1,379.7,5973.2,386.1,5972.3,387.9,5973.2,389.4,5973.2,389.4,5970.7,390.3,5970.9,391.4,5971.2,392.5,5971.4,395.9,5972.7,397.3,5973.2,401.4,5971.8,396.4,5970.5,397.3,5970.5,379.4,5970.5,385.5,5969.5,386.4,5970,387.1,5970,393.7,5969.3,379.4,5967.7,380.6,5968.2,387.1,5967.7,394.1,5967,396.2,5967.7,396.8,5967.7,383,5966.4,388.2,5965.5,389.5,5965.5,394.3,5964.3,396.8,5965.2,383,5963.6,380.3,5963.2,392.1,5963.6,397.1,5962.7];
const bigDec=[363.2,6010,50,367.3,6010.9,40,367.1,6005.9,50,365.5,6000.2,65,367,6000.3,65,369.1,5995.7,40,376.1,5992.7,50,377.9,5985.5,50,383.2,5992.3,50,386.5,5993.2,40,405.6,5988.6,50,409.1,5987.3,40,406.8,5986.1,40,412.5,5982.5,50,384.5,5986.8,40,384.5,5984.5,65,379.4,5980.6,50,382.7,5981.8,40,388.2,5983.6,50,393.2,5982.3,40,395.9,5980.3,40,400.7,5976.4,40,398.5,5973.2,40,393.4,5971.5,50,381.4,5970.6,50];

const monthData={Jan:[ptsJan,bigJan,null],Feb:[ptsFeb,bigFeb,null],Mar:[ptsMar,bigMar,null],Apr:[ptsApr,bigApr,fieldApr],May:[ptsMay,bigMay,fieldMay],Jun:[ptsJun,bigJun,fieldJun],Jul:[ptsJul,bigJul,fieldJul],Aug:[ptsAug,bigAug,fieldAug],Sep:[ptsSep,bigSep,fieldSep,peaksSep],Oct:[ptsOct,bigOct,null],Nov:[ptsNov,bigNov,null],Dec:[ptsDec,bigDec,fieldDec]};

const panelLeft=[98.3,337.5,576.8,816], panelTop=[46.5,305,564], panelW=228, panelH=205.5, stripH=40;
const svg=d3.select("#c");
const xs=d3.scaleLinear().domain([356.75,418.95]).range([0,panelW]);
const ys=d3.scaleLinear().domain([5959.68,6015.72]).range([panelH,0]);
const colorT=d3.scaleLinear().domain(spectral.map((_,i)=>colorDomain[0]+i*(colorDomain[1]-colorDomain[0])/(spectral.length-1))).range(spectral).clamp(true);
const rScale=d3.scaleSqrt().domain([0,600]).range([0,14.4]);
const INK="#333333",TICK="#555555";

// mask cells
const cells=[];
for(let i=0;i<56;i++)for(let j=0;j<51;j++){
  const cx=359.8+i+.5,cy=6013.5-j-.5;
  if(d3.polygonContains(regionOutline,[cx,cy]))cells.push([cx,cy]);
}
function fieldAt(g,x,y,peaks){
  if(!g)return flatField;
  const fx=Math.max(0,Math.min(gridX.length-1.001,(x-gridX[0])/(gridX[1]-gridX[0])));
  const fy=Math.max(0,Math.min(gridY.length-1.001,(gridY[0]-y)/(gridY[0]-gridY[1])));
  const i=Math.floor(fx),j=Math.floor(fy),a=fx-i,b=fy-j;
  let v=d3.interpolateNumber(d3.interpolateNumber(g[j][i],g[j][i+1])(a),d3.interpolateNumber(g[j+1][i],g[j+1][i+1])(a))(b);
  (peaks||[]).forEach(p=>{const d=Math.hypot(x-p[0],y-p[1]);if(d<p[3])v=d3.interpolateNumber(v,p[2])(1-d/p[3]);});
  return v;
}
const cw=xs(1)-xs(0);const ch=ys(0)-ys(1);

months.forEach((m,k)=>{
  const col=k%4,row=Math.floor(k/4);
  const L=panelLeft[col],T=panelTop[row];
  const [small,big,field,peaks]=monthData[m];
  // strip
  svg.append("rect").attr("x",L).attr("y",T-stripH).attr("width",panelW).attr("height",stripH).attr("fill","#D9D9D9").attr("stroke",INK).attr("stroke-width",1.2);
  svg.append("text").attr("x",L+panelW/2).attr("y",T-11).attr("text-anchor","middle").attr("font-size",19.5).attr("fill","#1A1A1A").text(m);
  const g=svg.append("g").attr("transform",`translate(${L},${T})`);
  g.append("rect").attr("width",panelW).attr("height",panelH).attr("fill","#fff");
  // grid
  const grid=g.append("g").attr("fill","none").attr("stroke","#EBEBEB");
  xMinor.forEach(v=>grid.append("line").attr("x1",xs(v)).attr("x2",xs(v)).attr("y2",panelH).attr("stroke-width",.8));
  yMinor.forEach(v=>grid.append("line").attr("y1",ys(v)).attr("y2",ys(v)).attr("x2",panelW).attr("stroke-width",.8));
  xTicks.forEach(v=>grid.append("line").attr("x1",xs(v)).attr("x2",xs(v)).attr("y2",panelH).attr("stroke-width",1.3));
  yTicks.forEach(v=>grid.append("line").attr("y1",ys(v)).attr("y2",ys(v)).attr("x2",panelW).attr("stroke-width",1.3));
  // field raster
  g.append("g").attr("shape-rendering","crispEdges").selectAll("rect").data(cells).join("rect")
    .attr("x",d=>xs(d[0])-cw/2).attr("y",d=>ys(d[1])-ch/2).attr("width",cw+.4).attr("height",ch+.4)
    .attr("fill",d=>colorT(fieldAt(field,d[0],d[1],peaks)));
  // points
  const pts=[];
  for(let i=0;i<small.length;i+=2)pts.push([small[i],small[i+1],smallResponse]);
  for(let i=0;i<big.length;i+=3)pts.push([big[i],big[i+1],big[i+2]]);
  g.append("g").attr("fill","none").attr("stroke","#000").attr("stroke-opacity",.68).attr("stroke-width",1.1)
    .selectAll("circle").data(pts).join("circle").attr("cx",d=>xs(d[0])).attr("cy",d=>ys(d[1])).attr("r",d=>rScale(d[2]));
  // border
  g.append("rect").attr("width",panelW).attr("height",panelH).attr("fill","none").attr("stroke",INK).attr("stroke-width",1.2);
  if(col===0){
    const ax=g.append("g").call(d3.axisLeft(ys).tickValues(yTicks).tickFormat(d3.format("d")).tickSize(7).tickPadding(5));
    ax.select(".domain").remove();ax.selectAll("line").attr("stroke",INK);
    ax.selectAll("text").attr("font-size",20).attr("fill",TICK).attr("font-family","inherit");
  }
  if(row===2){
    const ax=g.append("g").attr("transform",`translate(0,${panelH})`).call(d3.axisBottom(xs).tickValues(xTicks).tickFormat(d3.format("d")).tickSize(5).tickPadding(10));
    ax.select(".domain").remove();ax.selectAll("line").attr("stroke",INK);
    ax.selectAll("text").attr("font-size",20).attr("fill",TICK).attr("font-family","inherit");
  }
});
// titles
svg.append("text").attr("x",569.5).attr("y",828).attr("text-anchor","middle").attr("font-size",24.6).attr("fill","#000").text("Easting (km)");
svg.append("text").attr("transform","translate(30.5,408) rotate(-90)").attr("text-anchor","middle").attr("font-size",25).attr("fill","#000").text("Northing (km)");
// size legend
svg.append("text").attr("x",1080).attr("y",201.5).attr("font-size",24.6).text("response");
const sizeY=[236,274,313],labelX=1130;
sizeBreaks.forEach((b,i)=>{
  svg.append("circle").attr("cx",1099).attr("cy",sizeY[i]).attr("r",rScale(b)).attr("fill","none").attr("stroke","#000").attr("stroke-opacity",.55).attr("stroke-width",1);
  svg.append("text").attr("x",labelX).attr("y",sizeY[i]+9).attr("font-size",20).text(b);
});
// colour legend
svg.append("text").attr("x",1080).attr("y",403).attr("font-size",23.6).text("Upper CI");
svg.append("text").attr("x",1080).attr("y",431).attr("font-size",23.6).text("Count");
const barY=d3.scaleLinear().domain(colorDomain).range([637,445]);
const defs=svg.append("defs").append("linearGradient").attr("id","cb").attr("x1",0).attr("x2",0).attr("y1",1).attr("y2",0);
spectral.forEach((c,i)=>defs.append("stop").attr("offset",i/(spectral.length-1)).attr("stop-color",c));
svg.append("rect").attr("x",1080).attr("y",445).attr("width",38).attr("height",192).attr("fill","url(#cb)");
colorBreaks.forEach(b=>{
  const y=barY(b);
  svg.append("line").attr("x1",1080).attr("x2",1087.6).attr("y1",y).attr("y2",y).attr("stroke","#fff");
  svg.append("line").attr("x1",1110.4).attr("x2",1118).attr("y1",y).attr("y2",y).attr("stroke","#fff");
  svg.append("text").attr("x",labelX).attr("y",y+9).attr("font-size",20).text(b);
});
</script></body></html>
